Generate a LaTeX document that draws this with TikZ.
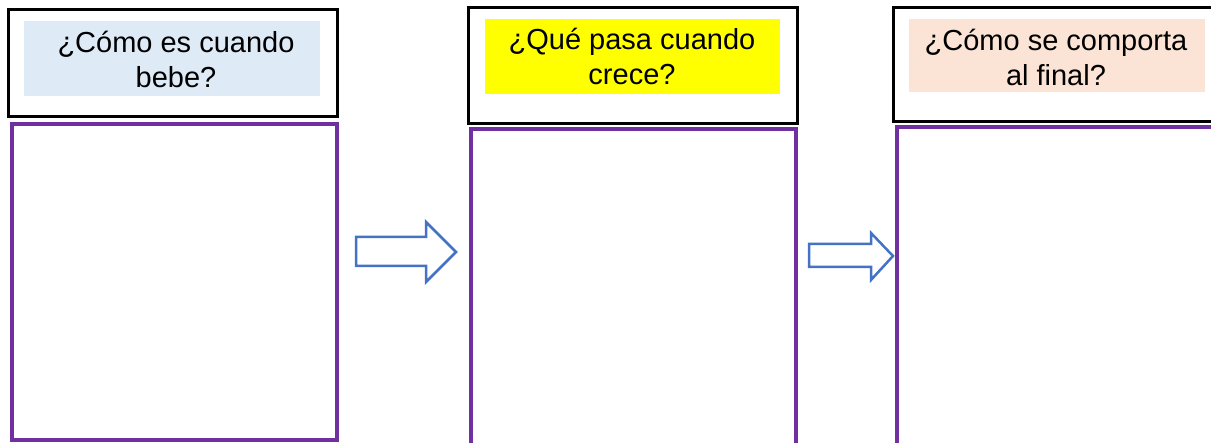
\documentclass[tikz,border=0pt]{standalone}
\usepackage{fontspec}
\setmainfont{Liberation Sans}
\usepackage{xcolor}
\definecolor{morado}{HTML}{7030A0}
\definecolor{azulflecha}{HTML}{4472C4}
\definecolor{celeste}{HTML}{DEEAF6}
\definecolor{amarillo}{HTML}{FFFF00}
\definecolor{durazno}{HTML}{FBE4D5}

\begin{document}
\begin{tikzpicture}[x=1pt,y=-1pt,
    titulo/.style={line width=3pt},
    cuadro/.style={morado,line width=3.5pt},
    flecha/.style={azulflecha,line width=2.5pt,line join=miter},
    texto/.style={align=center,font=\fontsize{29}{35}\selectfont}]
    \useasboundingbox (0,0) rectangle (1211,443);
    \clip (0,0) rectangle (1211,443);
    % prima etapa
    \draw[titulo](8,10) rectangle (337,117);
    \fill[celeste](24,21) rectangle (320,96);
    \node[texto] (bebe) at (176,59) {¿Cómo es cuando\\bebe?};
    \draw[cuadro](12,124) rectangle (337,440);
    % seconda etapa
    \draw[titulo](468,8) rectangle (797,124);
    \fill[amarillo](485,19) rectangle (780,94);
    \node[texto] (crece) at (632,56) {¿Qué pasa cuando\\crece?};
    \draw[cuadro](471,129) rectangle (796,470);
    % terza etapa
    \draw[titulo](893,8) rectangle (1225,122);
    \fill[durazno](909,19) rectangle (1205,92);
    \node[texto] (final) at (1056,57) {¿Cómo se comporta\\al final?};
    \draw[cuadro](897,127) rectangle (1230,470);
    % frecce
    \draw[flecha](356,237)--(426,237)--(426,222)--(456,252)--(426,282)--(426,266)--(356,266)--cycle;
    \draw[flecha](809,244)--(871,244)--(871,233)--(893,256)--(871,280)--(871,267)--(809,267)--cycle;
\end{tikzpicture}
\end{document}
